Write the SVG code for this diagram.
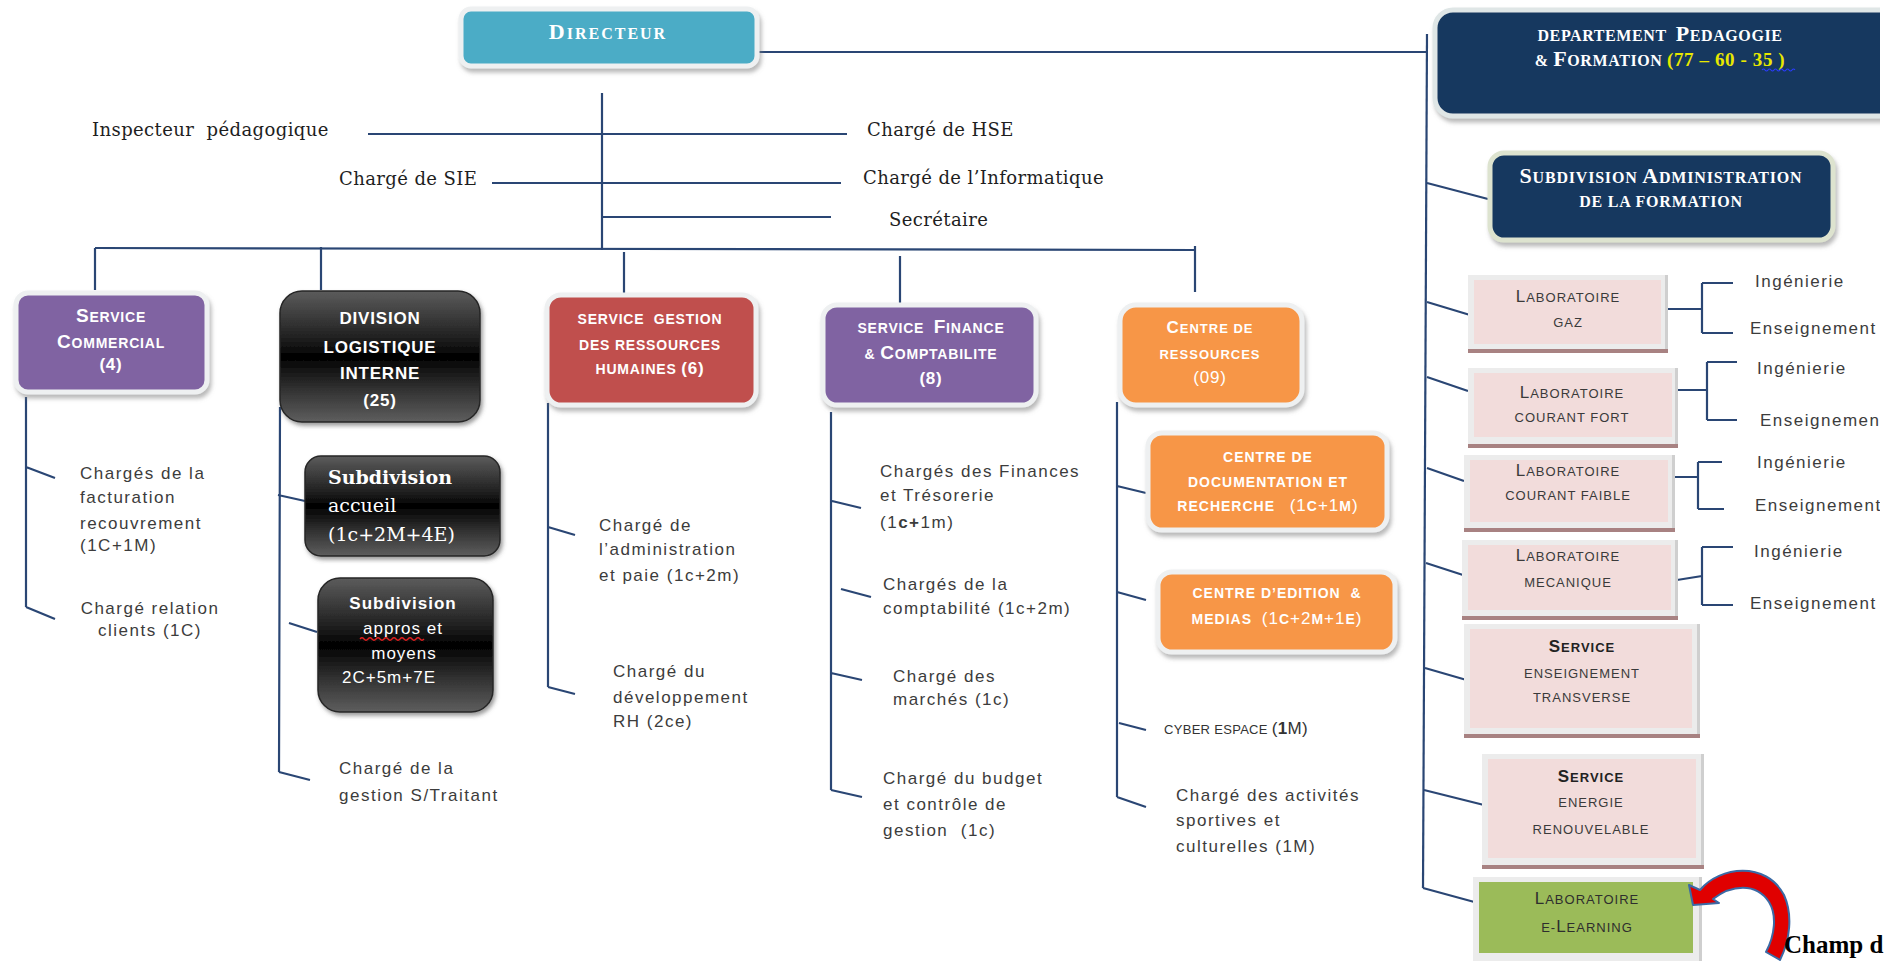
<svg xmlns="http://www.w3.org/2000/svg" width="1895" height="961" viewBox="0 0 1895 961">
<defs>
<style>
.ln{fill:none;stroke:#2a4674;stroke-width:2.2}
.t{font-family:"Liberation Sans",Arial,sans-serif;font-size:17px;fill:#3c3c3c;letter-spacing:1.5px}
.sf{font-family:"DejaVu Serif",serif;font-size:18px;fill:#1e1e1e;letter-spacing:0.4px}
.hd{font-family:"Liberation Sans",Arial,sans-serif;font-weight:bold;font-size:14px;fill:#fff;letter-spacing:0.8px;text-anchor:middle}
.hs{font-family:"Liberation Serif","Times New Roman",serif;font-weight:bold;font-size:16px;fill:#fff;text-anchor:middle}
.lb{font-family:"Liberation Sans",Arial,sans-serif;font-size:13px;fill:#3a3a3a;letter-spacing:1px;text-anchor:middle}
.b{font-size:19px}
.n{font-size:17px}
.ring{stroke:#eef0f1;stroke-width:5}
.frame{fill:#ececec}
.pink{fill:#f2dcdb}
.base{fill:#a88282}
.side{fill:#cfcfcf}
.wt{font-family:"Liberation Sans",Arial,sans-serif;fill:#fff;font-size:17px;letter-spacing:1px}
</style>
<filter id="sh" x="-10%" y="-10%" width="125%" height="135%">
<feDropShadow dx="2" dy="4" stdDeviation="2" flood-color="#7f7f7f" flood-opacity="0.55"/>
</filter>
<filter id="shd" x="-10%" y="-10%" width="125%" height="135%">
<feDropShadow dx="2" dy="3" stdDeviation="2" flood-color="#555" flood-opacity="0.6"/>
</filter>
<linearGradient id="gloss" x1="0" y1="0" x2="0" y2="1">
<stop offset="0" stop-color="#5c5c5c"/>
<stop offset="0.38" stop-color="#1c1c1c"/>
<stop offset="0.5" stop-color="#000"/>
<stop offset="0.72" stop-color="#2c2c2c"/>
<stop offset="1" stop-color="#5e5e5e"/>
</linearGradient>
<clipPath id="clipR"><rect x="0" y="0" width="1880" height="961"/></clipPath>
</defs>
<rect width="1895" height="961" fill="#fff"/>

<!-- connectors -->
<g id="connectors">
<path class="ln" d="M759 52H1427"/>
<path class="ln" d="M1427 34L1423 888"/>
<path class="ln" d="M602 93V250"/>
<path class="ln" d="M368 134H847"/>
<path class="ln" d="M492 183H841"/>
<path class="ln" d="M602 217H831"/>
<path class="ln" d="M95 248L1195 250"/>
<path class="ln" d="M95 248V290M321 247V290M624 252V296M900 256V306M1195 246V292"/>
<!-- service commercial -->
<path class="ln" d="M26 397V607M26 467L55 478M26 607L55 619"/>
<!-- division logistique -->
<path class="ln" d="M280 407L279 772M278 495L305 501M289 623L317 632M279 772L310 780"/>
<!-- ressources humaines -->
<path class="ln" d="M548 403V687M548 527L575 535M548 687L575 694"/>
<!-- finance -->
<path class="ln" d="M831 412V790M832 501L861 508M841 589L871 597M831 673L862 680M831 790L862 797"/>
<!-- centre de ressources -->
<path class="ln" d="M1117 402V797M1117 486L1146 493M1117 592L1146 600M1119 723L1146 730M1117 797L1146 807"/>
<!-- pedagogie column -->
<path class="ln" d="M1427 183L1488 199M1427 302L1470 315M1427 377L1468 391M1427 468L1464 481M1426 563L1463 575M1425 668L1470 681M1424 790L1484 805M1423 888L1478 903"/>
<!-- laboratory branches -->
<path class="ln" d="M1667 309H1702M1702 283V333M1702 283H1733M1702 333H1733"/>
<path class="ln" d="M1677 390H1707M1707 362V420M1707 362H1737M1707 420H1737"/>
<path class="ln" d="M1673 477H1698M1698 462V509M1698 462H1722M1698 509H1724"/>
<path class="ln" d="M1677 580L1702 576M1702 547V605M1702 547H1733M1702 605H1733"/>
</g>

<!-- top management -->
<g id="directeur">
<rect x="461" y="9" width="296" height="57" rx="10" fill="#4bacc6" class="ring" filter="url(#sh)"/>
<text class="hs" x="608" y="39" style="letter-spacing:2px"><tspan style="font-size:22px">D</tspan>IRECTEUR</text>
</g>

<g id="inspecteur"><text class="sf" x="92" y="136" xml:space="preserve">Inspecteur  pédagogique</text></g>
<g id="sie"><text class="sf" x="339" y="185">Chargé de SIE</text></g>
<g id="hse"><text class="sf" x="867" y="136">Chargé de HSE</text></g>
<g id="informatique"><text class="sf" x="863" y="184">Chargé de l’Informatique</text></g>
<g id="secretaire"><text class="sf" x="889" y="226">Secrétaire</text></g>

<!-- service commercial -->
<g id="service-commercial">
<rect x="16" y="293" width="191" height="99" rx="12" fill="#8064a2" class="ring" filter="url(#sh)"/>
<text class="hd" x="111" y="322"><tspan class="b">S</tspan>ERVICE</text>
<text class="hd" x="111" y="348"><tspan class="b">C</tspan>OMMERCIAL</text>
<text class="hd n" x="111" y="370">(4)</text>
</g>
<g id="facturation">
<text class="t" x="80" y="479">Chargés de la</text>
<text class="t" x="80" y="503">facturation</text>
<text class="t" x="80" y="529">recouvrement</text>
<text class="t" x="80" y="551">(1C+1M)</text>
</g>
<g id="relation-clients">
<text class="t" x="150" y="614" text-anchor="middle">Chargé relation</text>
<text class="t" x="150" y="636" text-anchor="middle">clients (1C)</text>
</g>

<!-- division logistique -->
<g id="division-logistique">
<rect x="280" y="291" width="200" height="131" rx="22" fill="url(#gloss)" stroke="#262626" stroke-width="1.5" filter="url(#shd)"/>
<text class="hd" x="380" y="324" style="font-size:17px">DIVISION</text>
<text class="hd" x="380" y="353" style="font-size:17px">LOGISTIQUE</text>
<text class="hd" x="380" y="379" style="font-size:17px">INTERNE</text>
<text class="hd" x="380" y="406" style="font-size:17px">(25)</text>
</g>
<g id="subdivision-accueil">
<rect x="305" y="456" width="195" height="100" rx="16" fill="url(#gloss)" stroke="#262626" stroke-width="1.5" filter="url(#shd)"/>
<text x="328" y="484" style="font-family:'DejaVu Serif',serif;font-weight:bold;font-size:19px;fill:#fff">Subdivision</text>
<text x="328" y="512" style="font-family:'DejaVu Serif',serif;font-size:19px;fill:#fff">accueil</text>
<text x="328" y="541" style="font-family:'DejaVu Serif',serif;font-size:19px;fill:#fff">(1c+2M+4E)</text>
</g>
<g id="subdivision-appros">
<rect x="318" y="578" width="175" height="134" rx="22" fill="url(#gloss)" stroke="#262626" stroke-width="1.5" filter="url(#shd)"/>
<text class="wt" x="403" y="609" text-anchor="middle" style="font-weight:bold">Subdivision</text>
<text class="wt" x="403" y="634" text-anchor="middle">appros et</text>
<path d="M360 639q2 -2.5 4 0t4 0t4 0t4 0t4 0t4 0t4 0t4 0t4 0t4 0t4 0t4 0t4 0t4 0t4 0t4 0" fill="none" stroke="#e02020" stroke-width="1.3"/>
<text class="wt" x="404" y="659" text-anchor="middle">moyens</text>
<text class="wt" x="342" y="683">2C+5m+7E</text>
</g>
<g id="sous-traitance">
<text class="t" x="339" y="774">Chargé de la</text>
<text class="t" x="339" y="801">gestion S/Traitant</text>
</g>

<!-- ressources humaines -->
<g id="service-rh">
<rect x="547" y="295" width="209" height="110" rx="14" fill="#c0504d" class="ring" filter="url(#sh)"/>
<text class="hd" x="650" y="324" xml:space="preserve">SERVICE  GESTION</text>
<text class="hd" x="650" y="350">DES RESSOURCES</text>
<text class="hd" x="650" y="374">HUMAINES <tspan class="n">(6)</tspan></text>
</g>
<g id="administration-paie">
<text class="t" x="599" y="531">Chargé de</text>
<text class="t" x="599" y="555">l’administration</text>
<text class="t" x="599" y="581">et paie (1c+2m)</text>
</g>
<g id="developpement-rh">
<text class="t" x="613" y="677">Chargé du</text>
<text class="t" x="613" y="703">développement</text>
<text class="t" x="613" y="727">RH (2ce)</text>
</g>

<!-- finance -->
<g id="service-finance">
<rect x="823" y="305" width="213" height="100" rx="14" fill="#8064a2" class="ring" filter="url(#sh)"/>
<text class="hd" x="931" y="333" xml:space="preserve">SERVICE  <tspan class="b">F</tspan>INANCE</text>
<text class="hd" x="931" y="359">&amp; <tspan class="b">C</tspan>OMPTABILITE</text>
<text class="hd n" x="931" y="384">(8)</text>
</g>
<g id="finances-tresorerie">
<text class="t" x="880" y="477">Chargés des Finances</text>
<text class="t" x="880" y="501">et Trésorerie</text>
<text class="t" x="880" y="528">(1<tspan style="font-weight:bold">c+</tspan>1m)</text>
</g>
<g id="comptabilite">
<text class="t" x="883" y="590">Chargés de la</text>
<text class="t" x="883" y="614">comptabilité (1c+2m)</text>
</g>
<g id="marches">
<text class="t" x="893" y="682">Chargé des</text>
<text class="t" x="893" y="705">marchés (1c)</text>
</g>
<g id="budget">
<text class="t" x="883" y="784">Chargé du budget</text>
<text class="t" x="883" y="810">et contrôle de</text>
<text class="t" x="883" y="836" xml:space="preserve">gestion  (1c)</text>
</g>

<!-- centre de ressources -->
<g id="centre-ressources">
<rect x="1120" y="305" width="182" height="100" rx="16" fill="#f79646" class="ring" filter="url(#sh)"/>
<text class="hd" x="1210" y="333" style="font-size:13px;letter-spacing:1px"><tspan style="font-size:17px">C</tspan>ENTRE DE</text>
<text class="hd" x="1210" y="359" style="font-size:13px;letter-spacing:1px">RESSOURCES</text>
<text class="hd n" x="1210" y="383" style="font-weight:normal">(09)</text>
</g>
<g id="centre-documentation">
<rect x="1148" y="433" width="239" height="97" rx="14" fill="#f79646" class="ring" filter="url(#sh)"/>
<text class="hd" x="1268" y="462" style="letter-spacing:1px">CENTRE DE</text>
<text class="hd" x="1268" y="487" style="letter-spacing:1px">DOCUMENTATION ET</text>
<text class="hd" x="1268" y="511" style="letter-spacing:1px" xml:space="preserve">RECHERCHE   <tspan style="font-size:17px;font-weight:normal">(1</tspan>C<tspan style="font-size:17px;font-weight:normal">+1</tspan>M<tspan style="font-size:17px;font-weight:normal">)</tspan></text>
</g>
<g id="centre-edition">
<rect x="1158" y="572" width="237" height="80" rx="14" fill="#f79646" class="ring" filter="url(#sh)"/>
<text class="hd" x="1277" y="598" style="letter-spacing:1px" xml:space="preserve">CENTRE D’EDITION  &amp;</text>
<text class="hd" x="1277" y="624" style="letter-spacing:1px" xml:space="preserve">MEDIAS  <tspan style="font-size:17px;font-weight:normal">(1</tspan>C<tspan style="font-size:17px;font-weight:normal">+2</tspan>M<tspan style="font-size:17px;font-weight:normal">+1</tspan>E<tspan style="font-size:17px;font-weight:normal">)</tspan></text>
</g>
<g id="cyber-espace">
<text x="1164" y="734" style="font-family:'Liberation Sans',Arial,sans-serif;font-size:13px;fill:#333;letter-spacing:0.3px">CYBER ESPACE <tspan style="font-size:17px">(<tspan style="font-weight:bold">1</tspan>M)</tspan></text>
</g>
<g id="activites-sportives">
<text class="t" x="1176" y="801">Chargé des activités</text>
<text class="t" x="1176" y="826">sportives et</text>
<text class="t" x="1176" y="852">culturelles (1M)</text>
</g>

<!-- departement pedagogie & formation -->
<g id="departement-pedagogie" clip-path="url(#clipR)">
<rect x="1435" y="10" width="470" height="106" rx="18" fill="#17375e" stroke="#dfe6e6" stroke-width="5" filter="url(#sh)"/>
<text class="hs" x="1660" y="41" style="letter-spacing:0.6px" xml:space="preserve">DEPARTEMENT  <tspan style="font-size:22px">P</tspan>EDAGOGIE</text>
<text class="hs" x="1660" y="66" style="letter-spacing:0.6px" xml:space="preserve">&amp; <tspan style="font-size:22px">F</tspan>ORMATION <tspan style="fill:#e8e800;font-size:19px">(77 – 60 - 35 )</tspan></text>
<path d="M1762 70q1.5 -2 3 0t3 0t3 0t3 0t3 0t3 0t3 0t3 0t3 0t3 0t3 0" fill="none" stroke="#2a3cff" stroke-width="1.1"/>
</g>
<g id="subdivision-administration">
<rect x="1490" y="153" width="343" height="87" rx="14" fill="#17375e" stroke="#dde3cf" stroke-width="5" filter="url(#sh)"/>
<text class="hs" x="1661" y="183" style="letter-spacing:0.8px"><tspan style="font-size:22px">S</tspan>UBDIVISION <tspan style="font-size:22px">A</tspan>DMINISTRATION</text>
<text class="hs" x="1661" y="207" style="letter-spacing:0.8px">DE LA FORMATION</text>
</g>

<!-- laboratories -->
<g id="labo-gaz">
<rect class="frame" x="1468" y="275" width="200" height="78"/>
<rect class="side" x="1665" y="275" width="3" height="78"/>
<rect class="pink" x="1474" y="280" width="187" height="64"/>
<rect class="base" x="1468" y="349" width="200" height="4"/>
<text class="lb" x="1568" y="302"><tspan style="font-size:17px">L</tspan>ABORATOIRE</text>
<text class="lb" x="1568" y="327">GAZ</text>
</g>
<g id="labo-gaz-branches" clip-path="url(#clipR)">
<text class="t" x="1755" y="287">Ingénierie</text>
<text class="t" x="1750" y="334">Enseignement</text>
</g>

<g id="labo-courant-fort">
<rect class="frame" x="1468" y="368" width="210" height="80"/>
<rect class="side" x="1675" y="368" width="3" height="80"/>
<rect class="pink" x="1474" y="373" width="198" height="64"/>
<rect class="base" x="1468" y="444" width="210" height="4"/>
<text class="lb" x="1572" y="398"><tspan style="font-size:17px">L</tspan>ABORATOIRE</text>
<text class="lb" x="1572" y="422">COURANT FORT</text>
</g>
<g id="labo-courant-fort-branches" clip-path="url(#clipR)">
<text class="t" x="1757" y="374">Ingénierie</text>
<text class="t" x="1760" y="426">Enseignement</text>
</g>

<g id="labo-courant-faible">
<rect class="frame" x="1464" y="455" width="211" height="77"/>
<rect class="side" x="1672" y="455" width="3" height="77"/>
<rect class="pink" x="1470" y="460" width="198" height="62"/>
<rect class="base" x="1464" y="528" width="211" height="4"/>
<text class="lb" x="1568" y="476"><tspan style="font-size:17px">L</tspan>ABORATOIRE</text>
<text class="lb" x="1568" y="500">COURANT FAIBLE</text>
</g>
<g id="labo-courant-faible-branches" clip-path="url(#clipR)">
<text class="t" x="1757" y="468">Ingénierie</text>
<text class="t" x="1755" y="511">Enseignement</text>
</g>

<g id="labo-mecanique">
<rect class="frame" x="1462" y="540" width="216" height="80"/>
<rect class="side" x="1675" y="540" width="3" height="80"/>
<rect class="pink" x="1468" y="545" width="203" height="65"/>
<rect class="base" x="1462" y="616" width="216" height="4"/>
<text class="lb" x="1568" y="561"><tspan style="font-size:17px">L</tspan>ABORATOIRE</text>
<text class="lb" x="1568" y="587">MECANIQUE</text>
</g>
<g id="labo-mecanique-branches" clip-path="url(#clipR)">
<text class="t" x="1754" y="557">Ingénierie</text>
<text class="t" x="1750" y="609">Enseignement</text>
</g>

<g id="service-enseignement-transverse">
<rect class="frame" x="1464" y="624" width="236" height="114"/>
<rect class="side" x="1697" y="624" width="3" height="114"/>
<rect class="pink" x="1470" y="629" width="222" height="99"/>
<rect class="base" x="1464" y="734" width="236" height="4"/>
<text class="lb" x="1582" y="652" style="font-weight:bold;fill:#222"><tspan style="font-size:17px">S</tspan>ERVICE</text>
<text class="lb" x="1582" y="678">ENSEIGNEMENT</text>
<text class="lb" x="1582" y="702">TRANSVERSE</text>
</g>

<g id="service-energie-renouvelable">
<rect class="frame" x="1482" y="754" width="222" height="115"/>
<rect class="side" x="1701" y="754" width="3" height="115"/>
<rect class="pink" x="1488" y="759" width="208" height="99"/>
<rect class="base" x="1482" y="865" width="222" height="4"/>
<text class="lb" x="1591" y="782" style="font-weight:bold;fill:#222"><tspan style="font-size:17px">S</tspan>ERVICE</text>
<text class="lb" x="1591" y="807">ENERGIE</text>
<text class="lb" x="1591" y="834">RENOUVELABLE</text>
</g>

<g id="labo-e-learning">
<rect class="frame" x="1473" y="877" width="229" height="90"/>
<rect class="side" x="1699" y="877" width="3" height="90"/>
<rect x="1479" y="882" width="214" height="71" fill="#9bbb59"/>
<text class="lb" x="1587" y="904" style="fill:#2e2e2e"><tspan style="font-size:17px">L</tspan>ABORATOIRE</text>
<text class="lb" x="1587" y="932" style="fill:#2e2e2e">E-<tspan style="font-size:17px">L</tspan>EARNING</text>
</g>

<!-- curved callout arrow -->
<g id="callout-arrow">
<path d="M1693 905L1689 885L1700 890C1720 866 1766 861 1784 895C1793 915 1790 940 1780 960L1766 952C1775 935 1777 915 1769 902C1756 882 1731 885 1713 899L1719 903Z" fill="#e00000" stroke="#3b6aa5" stroke-width="2" stroke-linejoin="round"/>
</g>
<g id="champ">
<text x="1784" y="953" style="font-family:'Liberation Serif','Times New Roman',serif;font-weight:bold;font-size:25px;fill:#000">Champ d</text>
</g>
</svg>
